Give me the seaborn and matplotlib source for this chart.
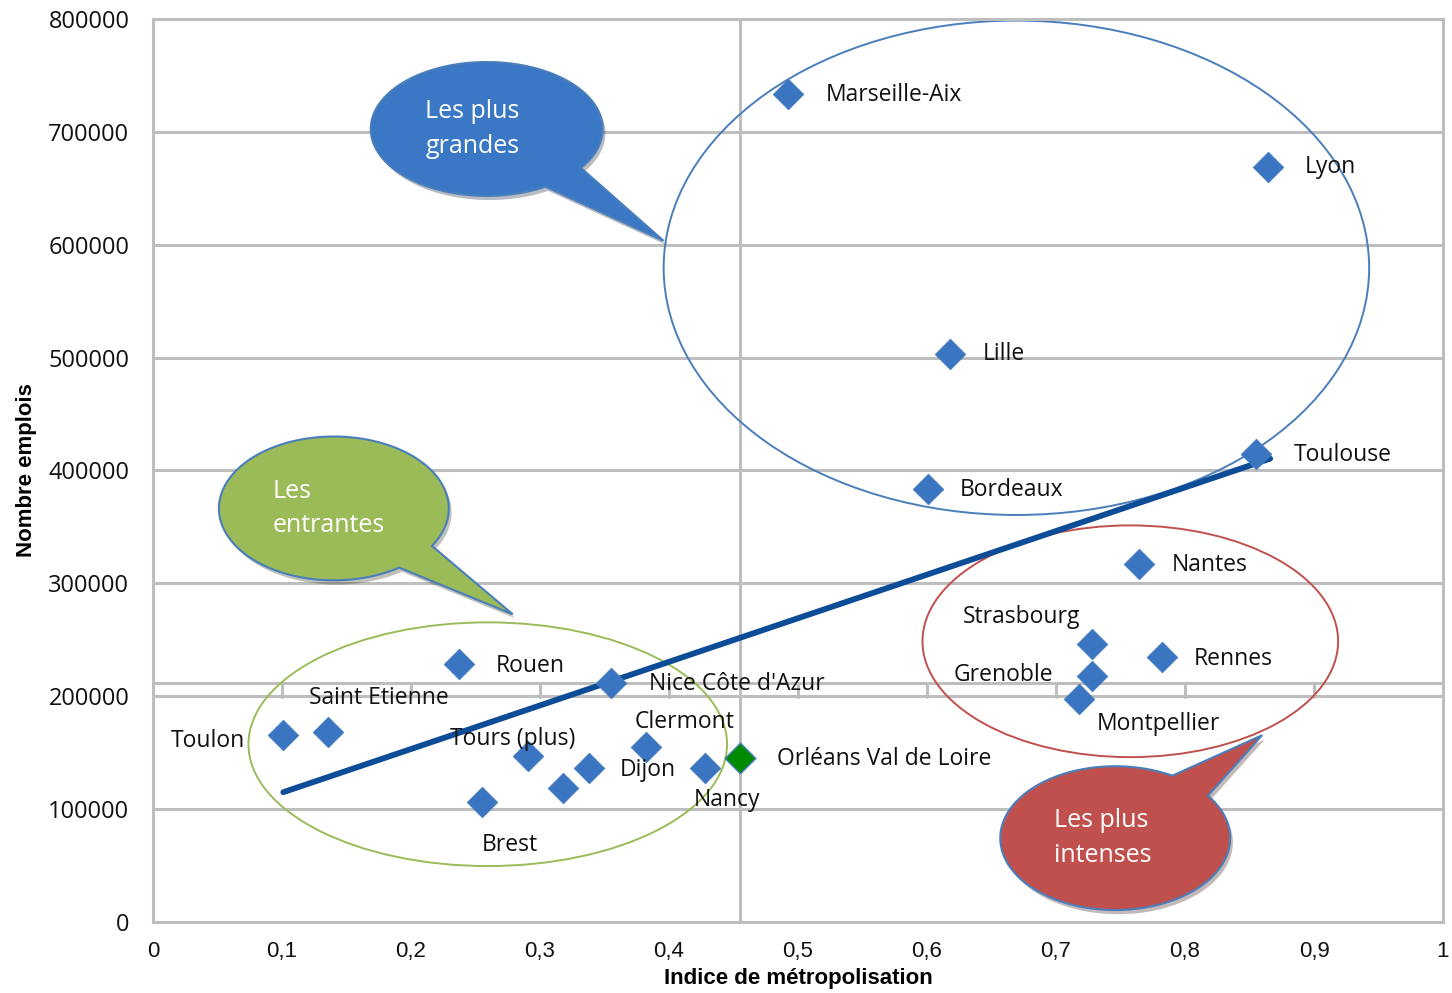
import numpy as np
import pandas as pd
import matplotlib
matplotlib.use("Agg")
import matplotlib.pyplot as plt
from matplotlib.patches import Ellipse, Polygon
import matplotlib.patheffects as pe
import seaborn as sns

# ---------------------------------------------------------
# Data
# ---------------------------------------------------------
villes = ["Marseille-Aix", "Lyon", "Lille", "Toulouse", "Bordeaux", "Nantes",
          "Strasbourg", "Rennes", "Grenoble", "Montpellier", "Rouen",
          "Nice Côte d'Azur", "Saint Etienne", "Toulon", "Tours (plus)",
          "Clermont", "Dijon", "", "Nancy", "Brest"]
indice = [0.492, 0.864, 0.618, 0.855, 0.601, 0.764,
          0.728, 0.782, 0.728, 0.718, 0.237,
          0.355, 0.136, 0.101, 0.291,
          0.382, 0.338, 0.318, 0.428, 0.255]
emplois = [733600, 669000, 503500, 415000, 384000, 316800,
           246000, 234500, 217700, 197300, 228300,
           211500, 168100, 165500, 146900,
           154900, 136300, 118600, 136300, 106200]

orleans_nom = "Orléans Val de Loire"
orleans_indice = 0.455
orleans_emplois = 145100

trend_x = [0.101, 0.866]
trend_y = [115000, 410500]

x_ticks = [0, 0.1, 0.2, 0.3, 0.4, 0.5, 0.6, 0.7, 0.8, 0.9, 1]
x_tick_labels = ["0", "0,1", "0,2", "0,3", "0,4", "0,5", "0,6", "0,7", "0,8", "0,9", "1"]
y_ticks = [0, 100000, 200000, 300000, 400000, 500000, 600000, 700000, 800000]

# axes crossing (secondary axis lines inside the plot)
cross_x = 0.455
cross_y = 212000

# label offsets in pixels (dx, dy), same order as villes
label_offsets = [(38, -1), (37, 0), (33, 0), (38, -1), (31, -1), (33, -1),
                 (-129, 27), (32, -2), (-138, 1), (18, -25), (37, -2),
                 (38, -1), (-19, 34), (-113, -6), (-78, 17),
                 (-11, 25), (31, -2), (0, 0), (-11, -32), (0, -43)]

# group ellipses: (center x, center y, width, height, colour)
groupes = [
    (0.6693, 579600, 0.5469, 438000, "#4A7EBB"),
    (0.2595, 157500, 0.3710, 215900, "#9BBB59"),
    (0.7576, 248700, 0.3222, 205300, "#C0504D"),
]

# callouts: text, centre, semi-axes, tail tip, colour
bulles = [
    ("Les plus\ngrandes", (0.2587, 702600), (0.0899, 59300), (0.3958, 603500), "#3A77C4"),
    ("Les\nentrantes", (0.1402, 366400), (0.0891, 63700), (0.2789, 272600), "#9BBB59"),
    ("Les plus\nintenses", (0.7459, 74300), (0.0891, 63700), (0.8598, 165500), "#C0504D"),
]

df = pd.DataFrame({"indice": indice, "emplois": emplois, "ville": villes})

# ---------------------------------------------------------
# Figure
# ---------------------------------------------------------
sns.set_style("white")
plt.rcParams["font.family"] = ["Open Sans", "DejaVu Sans"]

fig = plt.figure(figsize=(14.52, 9.93), dpi=100)
ax = fig.add_axes([153 / 1452, 1 - 922 / 993, (1443 - 153) / 1452, (922 - 19) / 993])
ax.set_xlim(0, 1)
ax.set_ylim(0, 800000)

grid_col = "#BEBEBE"
for yv in y_ticks:
    ax.axhline(yv, color=grid_col, lw=2.2, zorder=0)
ax.axvline(cross_x, color=grid_col, lw=2.2, zorder=0)
ax.axhline(cross_y, color=grid_col, lw=2.2, zorder=0)
for xv in x_ticks[1:-1]:
    ax.plot([xv, xv], [cross_y, cross_y - 13000], color=grid_col, lw=2.2, zorder=0)

for s in ax.spines.values():
    s.set_color(grid_col)
    s.set_linewidth(2.2)

# group ellipses
for cx, cy, w, h, col in groupes:
    ax.add_patch(Ellipse((cx, cy), w, h, fill=False, edgecolor=col, lw=1.4, zorder=1))

# trend line
sns.lineplot(x=trend_x, y=trend_y, ax=ax, color="#0D4C96", lw=4.2, zorder=3)

# points
sns.scatterplot(data=df, x="indice", y="emplois", ax=ax, marker="D", s=245,
                color="#3A75C2", edgecolor="#4A7EBB", linewidth=0.5, zorder=4)
sns.scatterplot(x=[orleans_indice], y=[orleans_emplois], ax=ax, marker="D", s=245,
                color="#008A00", edgecolor="#4A7EBB", linewidth=1.0, zorder=4)

for (nom, xv, yv), (dx, dy) in zip(zip(villes, indice, emplois), label_offsets):
    if nom:
        ax.annotate(nom, (xv, yv), xytext=(dx, dy), textcoords="offset pixels",
                    ha="left", va="center", fontsize=16.5, color="#111111", zorder=5)
ax.annotate(orleans_nom, (orleans_indice, orleans_emplois), xytext=(37, -1),
            textcoords="offset pixels", ha="left", va="center", fontsize=16.5,
            color="#111111", zorder=5)

# callout bubbles
for texte, (cx, cy), (a, b), (tx, ty), col in bulles:
    ang_tip = np.arctan2((ty - cy) / b, (tx - cx) / a)
    half = np.deg2rad(12)
    th = np.linspace(ang_tip + half, ang_tip + 2 * np.pi - half, 200)
    pts = np.column_stack([cx + a * np.cos(th), cy + b * np.sin(th)])
    pts = np.vstack([pts, [tx, ty]])
    poly = Polygon(pts, closed=True, facecolor=col, edgecolor="#4A7EBB", lw=1.5, zorder=6,
                   path_effects=[pe.SimplePatchShadow(offset=(2, -3), alpha=0.3), pe.Normal()])
    ax.add_patch(poly)
    ax.text(cx - a * 0.53, cy, texte, ha="left", va="center", color="white",
            fontsize=18, linespacing=1.5, zorder=7)

# ticks and labels
ax.set_xticks(x_ticks)
ax.set_xticklabels(x_tick_labels, family=["Liberation Sans", "DejaVu Sans"], fontsize=16)
ax.set_yticks(y_ticks)
ax.set_yticklabels([str(v) for v in y_ticks], fontsize=17)
ax.tick_params(axis="x", length=0, pad=14, labelcolor="#111111")
ax.tick_params(axis="y", length=0, pad=17, labelcolor="#111111")
ax.set_xlabel("Indice de métropolisation", family=["Liberation Sans", "DejaVu Sans"],
              fontweight="bold", fontsize=16, color="black")
ax.xaxis.set_label_coords(0.5, -0.051)
ax.set_ylabel("Nombre emplois", family=["Liberation Sans", "DejaVu Sans"],
              fontweight="bold", fontsize=16, labelpad=8, color="black")

fig.savefig("out.png", dpi=100)
plt.close(fig)
